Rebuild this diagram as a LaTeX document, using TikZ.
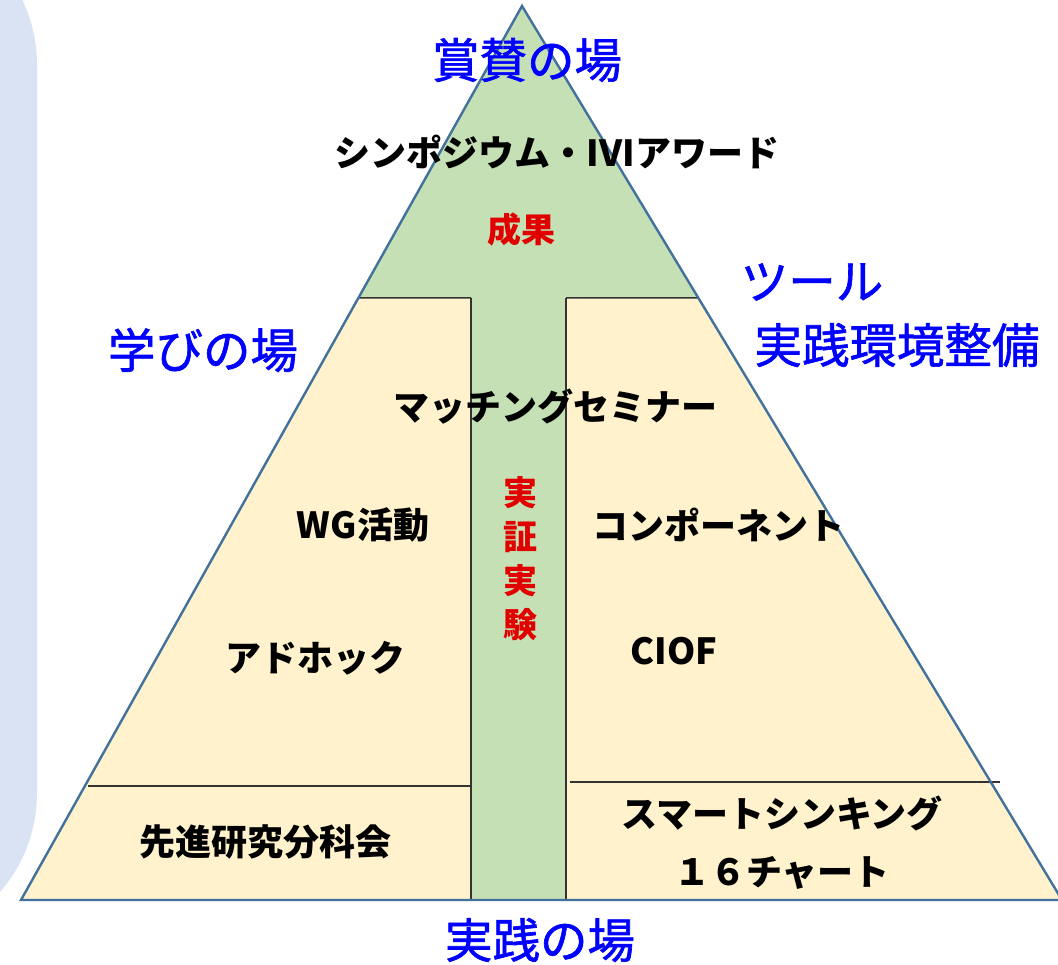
\documentclass[tikz,border=0pt]{standalone}
\usepackage{fontspec}
\usetikzlibrary{calc}
\newfontfamily\jp{Noto Sans CJK JP}
\newfontfamily\jpm[FakeBold=1.3]{Noto Sans CJK JP}
\definecolor{panel}{HTML}{DAE3F3}
\definecolor{ylw}{HTML}{FFF2CC}
\definecolor{grn}{HTML}{C5E0B4}
\definecolor{edgeblue}{HTML}{41719C}
\definecolor{blu}{HTML}{0000FF}
\definecolor{rd}{HTML}{E00000}
\begin{document}
\begin{tikzpicture}[x=1pt,y=-1pt,
  place/.style={font=\jpm\fontsize{47.5}{50}\selectfont, text=blu, inner sep=0pt},
  item/.style={font=\jp\bfseries\fontsize{36}{40}\selectfont, text=black, inner sep=0pt},
  result/.style={font=\jp\bfseries\fontsize{34}{44}\selectfont, text=rd, inner sep=0pt, align=center},
  sepline/.style={draw=black!80, line width=1.5pt},
  outline/.style={draw=edgeblue, line width=2.4pt}]
\useasboundingbox (0,0) rectangle (1058,965);
% left panel
\fill[panel, rounded corners=151pt] (-300,-86) rectangle (37,944);
% pyramid corners
\coordinate (A) at (522,6);
\coordinate (L) at (21,900);
\coordinate (R) at (1062,900);
\coordinate (TL) at ($(A)!0.3266!(L)$);
\coordinate (TR) at ($(A)!0.3266!(R)$);
% fills
\fill[ylw] (A) -- (L) -- (R) -- cycle;
\fill[grn] (A) -- (TL) -- (TR) -- cycle;
\fill[grn] (471,298) rectangle (566,900);
% separators
\draw[sepline] (TL) -- (471,298);
\draw[sepline] (566,298) -- (TR);
\draw[sepline] (471,298) -- (471,900);
\draw[sepline] (566,298) -- (566,900);
\draw[sepline] (88,786) -- (471,786);
\draw[sepline] (570,782) -- (1000,782);
% outline
\draw[outline, line join=miter] (A) -- (L) -- (R) -- cycle;
% labels
\node[place] (shosan) at (527,60) {賞賛の場};
\node[place] (manabi) at (203,350) {学びの場};
\node[place] (tool) at (812,282) {ツール};
\node[place] (jissenkankyo) at (897,345) {実践環境整備};
\node[place] (jissen) at (540,940) {実践の場};
\node[item] (symp) at (557,152) {シンポジウム・IVIアワード};
\node[result] (seika) at (521,230) {成果};
\node[item] (match) at (555,407) {マッチングセミナー};
\node[item] (wg) at (363,525) {WG活動};
\node[item] (comp) at (718,525) {コンポーネント};
\node[result] (jissho) at (520,559) {実\\証\\実\\験};
\node[item] (adhoc) at (315,658) {アドホック};
\node[item] (ciof) at (674,651) {CIOF};
\node[item] (senshin) at (265,842) {先進研究分科会};
\node[item] (smart) at (782,813) {スマートシンキング};
\node[item] (chart) at (782,873) {１６チャート};
\end{tikzpicture}
\end{document}
